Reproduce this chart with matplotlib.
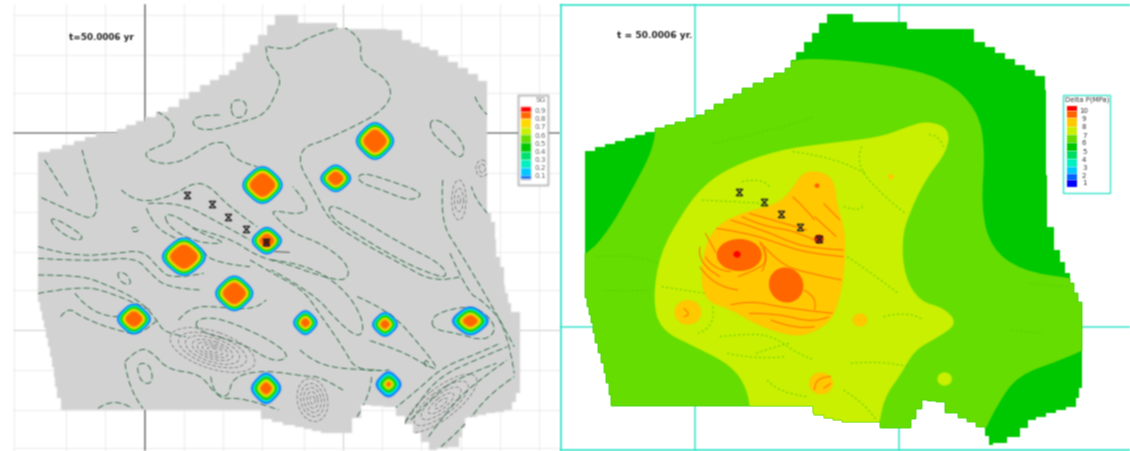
import numpy as np
import matplotlib
matplotlib.use("Agg")
import matplotlib.pyplot as plt
from matplotlib.path import Path
from matplotlib.patches import Patch, PathPatch, Ellipse, Rectangle
from matplotlib.lines import Line2D
from matplotlib.text import Text

STEP = 25

left_outline = [(107,457),(175,435),(270,400),(300,400),(406,350),(470,320),(560,255),(640,210),(700,135),(770,45),
                (835,45),(835,70),(940,70),(945,85),(1110,90),(1125,120),(1200,150),(1365,260),(1365,640),(1385,690),
                (1390,770),(1410,830),(1415,880),(1430,935),(1455,940),(1455,1180),(1435,1230),(1310,1255),(1285,1340),
                (1225,1350),(1180,1300),(1110,1220),(1040,1215),(1010,1255),(985,1300),(925,1300),(825,1275),(730,1250),
                (730,1230),(180,1230),(160,1160),(140,1040),(130,985),(107,880)]
right_outline = [(70,452),(260,385),(375,345),(500,265),(620,205),(650,155),(735,42),(805,42),(805,65),(950,65),(955,88),
                 (1115,88),(1140,125),(1335,245),(1340,680),(1360,680),(1360,750),(1390,820),(1415,880),(1435,930),
                 (1435,1165),(1420,1220),(1310,1260),(1265,1310),(1230,1330),(1190,1335),(1170,1280),(1095,1240),
                 (1060,1205),(1010,1200),(965,1285),(900,1285),(880,1265),(800,1265),(700,1240),(695,1218),(145,1218),
                 (135,1150),(105,1030),(90,970),(70,870)]

# SG plumes: centre x, centre y, half width, half height, share taken by the orange core
plume_x = [1050,940,735,747,515,656,375,855,1078,1317,745,1088]
plume_y = [423,535,555,722,770,880,957,968,973,963,1165,1153]
plume_rx = [52,42,55,41,60,52,46,33,35,50,41,35]
plume_ry = [55,40,55,40,56,52,45,36,36,42,46,38]
plume_core = [.62,.52,.64,.52,.64,.62,.52,.38,.38,.42,.40,.20]
plume_colors = ['#0064ff','#00c8ff','#00f0c0','#00c800','#66dd00','#c8f000','#ffd800','#ff6600']

left_wells_x = [523,594,638,690,744]
left_wells_y = [585,613,652,687,726]
right_wells_x = [492,562,607,660,712]
right_wells_y = [577,605,643,680,717]

left_open = [
    [(750,140),(810,155),(860,110),(945,85)],
    [(960,80),(1015,110),(1005,190),(1080,230),(1100,290),(1060,340),(990,380),(900,425),(850,440),(835,490),(880,570),(920,660),(1000,720),(1120,790),(1220,850),(1290,830)],
    [(745,140),(745,185),(790,230),(770,290),(740,345),(680,365),(580,395),(535,375),(550,345),(620,345)],
    [(440,335),(485,360),(490,420),(440,440),(400,460),(430,490),(500,490),(560,450),(600,425),(640,430),(650,480),(720,500)],
    [(230,450),(245,520),(275,600),(265,660),(210,640),(110,590)],
    [(125,480),(190,590)],
    [(340,570),(380,610),(480,590),(545,545),(590,560),(640,620),(720,680)],
    [(415,610),(500,605),(600,660),(700,720)],
    [(410,625),(430,680),(500,720),(560,745),(600,790),(700,800)],
    [(540,685),(640,710),(720,770),(800,790),(900,830),(975,845),(975,790),(900,730),(820,700),(770,650),(760,630),(840,645),(870,620),(820,560)],
    [(107,740),(200,770),(330,760),(400,750),(440,800),(480,840),(570,820)],
    [(107,775),(250,785),(380,770),(420,820),(470,865),(560,870)],
    [(107,825),(220,825),(290,850),(390,900),(440,960),(460,1000),(520,1010)],
    [(107,880),(210,860),(300,870),(420,930)],
    [(210,880),(260,950),(330,950)],
    [(170,950),(190,920),(225,950),(320,990),(400,1005),(440,960)],
    [(500,960),(530,920),(610,920),(720,930),(745,900)],
    [(350,1085),(390,1040),(430,1060),(470,1110),(560,1120),(600,1180),(640,1195),(650,1130),(740,1110),(860,1130),(900,1130),(960,1170)],
    [(760,780),(850,790),(960,860),(1020,960),(1010,1020),(940,960),(880,880),(760,810)],
    [(700,780),(780,830),(850,870),(900,950),(960,1040),(1000,1120),(1090,1110)],
    [(1000,890),(1090,930),(1180,1040),(1230,1110),(1200,1100),(1120,1050),(1030,1020)],
    [(840,1050),(880,1090),(980,1110),(1060,1110)],
    [(1240,540),(1230,660),(1290,760),(1340,850),(1400,960),(1440,1040)],
    [(1260,760),(1310,880),(1350,900),(1420,980),(1440,1120)],
    [(1330,290),(1340,320),(1365,345)],
    [(1120,1290),(1170,1210),(1230,1130),(1330,1080),(1420,1040)],
    [(1100,1230),(1170,1170),(1240,1100),(1340,1060),(1400,1030)],
    [(1150,1260),(1220,1180),(1290,1130),(1390,1090)],
    [(1200,1310),(1260,1220),(1340,1140),(1420,1080)],
    [(1235,1340),(1300,1280),(1370,1180),(1440,1130)],
    [(275,1225),(320,1190),(370,1225)],
    [(350,1090),(360,1170),(400,1225)],
    [(590,1130),(600,1200),(680,1190),(780,1230)],
    [(1000,1250),(1040,1180),(1040,1130)],
    [(1365,640),(1330,600),(1320,560)],
]
left_closed = [
    [(645,300),(690,300),(690,350),(650,355)],
    [(1010,515),(1100,545),(1190,580),(1150,605),(1070,570),(1000,545)],
    [(920,610),(1000,650),(1120,730),(1235,790),(1255,835),(1200,820),(1100,770),(980,690),(925,650)],
    [(1205,355),(1250,370),(1305,440),(1290,480),(1250,440),(1205,395)],
    [(1205,965),(1230,935),(1330,915),(1395,980),(1360,1025),(1280,1000),(1220,990)],
    [(545,960),(600,950),(700,990),(785,1040),(810,1075),(760,1085),(680,1030),(555,995)],
    [(455,640),(500,650),(560,700),(640,730),(560,730),(480,690)],
    [(140,650),(190,675),(240,715),(205,722),(150,680)],
    [(325,815),(355,820),(370,855),(340,850)],
    [(370,680),(390,685),(385,695),(370,695)],
    [(380,1090),(420,1090),(430,1150),(395,1150)],
    [(1190,1080),(1200,1085),(1198,1100),(1188,1095)],
]
# groups of concentric rings: centre x, centre y, angle, widths, heights
ring_x = [595,875,1235,1285,1350]
ring_y = [1050,1200,1210,600,505]
ring_angle = [20,80,-40,90,0]
ring_widths = [[250,200,160,120,90,60,30],[130,100,75,50,25],[250,190,140,90,45],[120,70,25],[35,18]]
ring_heights = [[110,88,70,52,38,25,12],[85,65,48,30,14],[90,70,50,32,15],[40,25,8],[50,25]]

# pressure zones of the right map
zone_light = [(620,190),(680,172),(900,193),(1060,235),(1150,330),(1170,450),(1158,620),(1185,745),(1270,812),(1400,835),
              (1520,850),(1490,1025),(1380,1080),(1260,1125),(1205,1210),(1165,1300),(1100,1420),(-60,1420),(-60,820),
              (70,770),(135,690),(205,555),(255,450),(265,370),(240,150),(450,100)]
zone_yellow = [(1010,362),(1072,385),(1065,455),(1010,530),(960,640),(940,720),(948,830),(990,905),(1055,922),(1095,970),
               (1040,1012),(975,1050),(940,1120),(890,1195),(875,1300),(800,1330),(600,1330),(525,1250),(515,1165),
               (470,1095),(370,1040),(275,990),(255,895),(275,760),(330,650),(390,560),(470,500),(600,450),(730,430),
               (880,412),(955,380)]
zone_orange = [(705,510),(755,535),(762,620),(785,690),(785,800),(768,905),(745,965),(680,1008),(620,1005),(540,975),
               (470,928),(392,900),(388,780),(418,688),(490,640),(600,612),(640,565),(665,520)]
small_x = [352,825,718,1058,910]
small_y = [937,960,1150,1137,530]
small_r = [37,20,33,20,8]
small_colors = ['#ffc800','#ffc800','#ffc800','#c8f000','#ffc800']

right_orange_lines = [
    [(640,590),(680,630),(700,660)],
    [(725,610),(770,660)],
    [(700,650),(760,710)],
    [(500,650),(560,680),(640,690),(700,720)],
    [(520,640),(600,665),(680,690)],
    [(430,685),(520,700),(600,730),(680,760),(780,770)],
    [(470,660),(560,690),(640,730),(700,745),(780,750)],
    [(550,725),(600,790),(680,820),(775,840)],
    [(400,770),(420,810),(470,815)],
    [(385,800),(420,860),(490,870)],
    [(400,700),(430,760)],
    [(385,740),(375,790),(440,830)],
    [(550,730),(578,770),(555,815)],
    [(560,740),(575,780),(540,810),(490,830)],
    [(670,870),(710,890),(700,930)],
    [(470,915),(520,900),(620,925),(750,940)],
    [(520,940),(600,940),(700,970),(740,950)],
    [(580,960),(650,990),(700,980)],
    [(340,925),(365,945),(340,950)],
    [(700,1170),(700,1130),(745,1130)],
    [(725,1165),(745,1150)],
]
right_green_lines = [
    [(390,600),(480,605),(560,610)],
    [(500,545),(560,530),(580,565)],
    [(640,455),(760,470),(840,520)],
    [(830,440),(810,490),(890,590),(950,640)],
    [(780,620),(840,640),(830,610)],
    [(790,770),(860,820),(930,880)],
    [(280,860),(400,880)],
    [(440,1010),(520,1000),(590,1010),(650,1060),(700,1080)],
    [(460,1060),(540,1080),(620,1070)],
    [(540,1060),(590,1040),(630,1030)],
    [(570,1140),(600,1180),(680,1190)],
    [(800,1090),(880,1080),(960,1100)],
    [(780,1170),(840,1210),(870,1260)],
    [(420,920),(430,980),(380,1000)],
    [(1015,405),(1040,400),(1055,440)],
    [(890,950),(960,930),(1000,960)],
    [(100,770),(200,760),(270,790)],
    [(120,870),(240,870)],
    [(420,430),(560,400),(700,350)],
    [(1240,990),(1330,1000)],
    [(1290,850),(1400,860)],
]

sg_colors = ['#ff0000','#ff6600','#ffd800','#c8f000','#66dd00','#00c800','#00e070','#00f0c0','#00c8ff','#0064ff','#b0b0b0']
sg_edges = [320,335,358,383,405,430,455,480,503,527,536,540]
sg_labels = ['0.9','0.8','0.7','0.6','0.5','0.4','0.3','0.2','0.1']
sg_label_y = [333,358,382,407,432,456,481,505,529]
dp_colors = ['#ff0000','#ff6600','#ffc800','#c8f000','#66dd00','#00c800','#00dc64','#00f0c0','#00c8ff','#0064ff','#0000ff']
dp_edges = [318,333,355,380,405,428,452,478,500,523,540,560]
dp_labels = ['10','9','8','7','6','5','4','3','2','1']
dp_label_y = [332,357,382,407,430,455,480,505,528,548]

grid_x = [38,185,295,515,625,735,850,960,1070,1180,1290,1400,1510]
grid_y = [45,165,280,518,635,755,870,990,1110,1230,1345]


def stairs(points):
    # the model grid shows as steps on slanted edges
    out = []
    n = len(points)
    for i in range(n):
        x0, y0 = points[i]
        x1, y1 = points[(i + 1) % n]
        count = int(max(abs(x1 - x0), abs(y1 - y0)) / STEP)
        if x0 == x1 or y0 == y1 or count < 2:
            out.append((x0, y0))
            out.append((x1, y0))
            continue
        for k in range(count):
            out.append((x0 + (x1 - x0) * k / count, y0 + (y1 - y0) * k / count))
            out.append((x0 + (x1 - x0) * (k + 1) / count, y0 + (y1 - y0) * k / count))
    return Path(out + [out[0]], closed=True)


def smooth(points, closed=False):
    p = np.array(points, dtype=float)
    verts = []
    codes = []
    if closed:
        verts.append((p[-1] + p[0]) / 2)
        codes.append(Path.MOVETO)
        for i in range(len(p)):
            verts += [p[i], (p[i] + p[(i + 1) % len(p)]) / 2]
            codes += [Path.CURVE3, Path.CURVE3]
    else:
        verts.append(p[0])
        codes.append(Path.MOVETO)
        for i in range(1, len(p) - 1):
            end = p[i + 1] if i == len(p) - 2 else (p[i] + p[i + 1]) / 2
            verts += [p[i], end]
            codes += [Path.CURVE3, Path.CURVE3]
        if len(p) == 2:
            verts.append(p[1])
            codes.append(Path.LINETO)
    return Path(verts, codes)


def make_blur(weights):
    # the source picture is a soft scan, so every artist gets a small blur
    weights = np.array(weights, dtype=float) / sum(weights)
    pad = len(weights) // 2 + 1

    def blur(img, dpi):
        out = np.zeros((img.shape[0] + 2 * pad, img.shape[1] + 2 * pad, 4))
        out[pad:-pad, pad:-pad] = img
        out[..., :3] *= out[..., 3:]
        for axis in (0, 1):
            out = sum(w * np.roll(out, k - len(weights) // 2, axis=axis) for k, w in enumerate(weights))
        alpha = np.maximum(out[..., 3:], 1e-4)
        out[..., :3] = np.clip(out[..., :3] / alpha, 0, 1)
        return out, -pad, -pad
    return blur


def add_line(ax, path, clip, color, lw, dashes, z=3):
    line = PathPatch(path, fill=False, edgecolor=color, lw=lw, ls=dashes, zorder=z)
    ax.add_patch(line)
    line.set_clip_path(clip)


def add_contour(ax, path, clip):
    add_line(ax, path, clip, '#78d89a', 0.4, '-')
    add_line(ax, path, clip, '#555555', 0.6, (0, (7, 4)))


def add_wells(ax, xs, ys):
    hourglass = Path([(-1, 1), (1, 1), (-1, -1), (1, -1), (-1, 1)], closed=True)
    ax.plot(xs, ys, ls='none', marker=hourglass, ms=4.6, mfc='none', mec='#222222', mew=0.9, zorder=6)


def add_legend(ax, box, edge, colors, edges, labels, label_y, title, title_x, label_x, sw_x, size, text_color):
    ax.add_patch(Rectangle((box[0], box[1]), box[2], box[3], fc='white', ec=edge, lw=1, zorder=7))
    for c, top, bottom in zip(colors, edges[:-1], edges[1:]):
        ax.add_patch(Rectangle((sw_x, top), 28, bottom - top, fc=c, ec='none', zorder=8))
    ax.text(title_x, box[1] + 14, title, fontsize=size, color=text_color, ha='center', va='center', zorder=8)
    for lab, y in zip(labels, label_y):
        ax.text(label_x, y, lab, fontsize=size, color=text_color, ha='center', va='center', zorder=8)


fig = plt.figure(figsize=(11.30, 4.51), dpi=100)
ax1 = fig.add_axes([0, 0, 560 / 1130, 1])
ax2 = fig.add_axes([560 / 1130, 0, 570 / 1130, 1])
for ax in (ax1, ax2):
    ax.set_xlim(0, 1568)
    ax.set_ylim(1353, 0)
    ax.axis('off')

# left map: gas saturation
for gx in grid_x:
    ax1.plot([gx, gx], [15, 1350], color='#d4d4d4' if gx == 960 else '#eeeeee', lw=0.8, zorder=1)
for gy in grid_y:
    ax1.plot([38, 1568], [gy, gy], color='#d4d4d4' if gy == 990 else '#eeeeee', lw=0.8, zorder=1)
ax1.plot([406, 406], [15, 1350], color='#707070', lw=1.1, zorder=1)
ax1.plot([38, 1568], [398, 398], color='#808080', lw=1.1, zorder=1)

map1 = PathPatch(stairs(left_outline), fc='#d2d2d2', ec='none', zorder=2)
ax1.add_patch(map1)
for pts in left_open:
    add_contour(ax1, smooth(pts), map1)
for pts in left_closed:
    add_contour(ax1, smooth(pts, closed=True), map1)
for x, y, angle, widths, heights in zip(ring_x, ring_y, ring_angle, ring_widths, ring_heights):
    for w, h in zip(widths, heights):
        ring = Ellipse((x, y), w, h, angle=angle, fill=False, ec='#606060', lw=0.45, ls=(0, (6, 3)), zorder=3)
        ax1.add_patch(ring)
        ring.set_clip_path(map1)

for x, y, rx, ry, core in zip(plume_x, plume_y, plume_rx, plume_ry, plume_core):
    scales = np.linspace(1, core + 0.06, len(plume_colors) - 1).tolist() + [core]
    for color, s in zip(plume_colors, scales):
        # rounded diamond: four corners and four slightly bulged sides
        shape = [(x + rx * 1.14 * s, y), (x + rx * .66 * s, y + ry * .66 * s),
                 (x, y + ry * 1.14 * s), (x - rx * .66 * s, y + ry * .66 * s),
                 (x - rx * 1.14 * s, y), (x - rx * .66 * s, y - ry * .66 * s),
                 (x, y - ry * 1.14 * s), (x + rx * .66 * s, y - ry * .66 * s)]
        ax1.add_patch(PathPatch(smooth(shape, closed=True), fc=color, ec='none', zorder=4))
add_wells(ax1, left_wells_x, left_wells_y)
ax1.plot([744], [726], ls='none', marker='o', ms=4, color='#8a1a00', zorder=5)
ax1.plot([770, 810], [755, 757], color='#555555', lw=0.7, zorder=5)
ax1.text(193, 112, 't=50.0006 yr', fontsize=6.4, fontweight='bold', color='#222222', va='center', zorder=8)
add_legend(ax1, (1450, 285, 85, 270), '#a0a0a0', sg_colors, sg_edges, sg_labels, sg_label_y,
           'SG', 1513, 1514, 1460, 5.2, '#666666')

# right map: pressure change
frame = '#38e6cc'
ax2.plot([3, 1568], [14, 14], color=frame, lw=1.3, zorder=1)
ax2.plot([3, 1568], [1351, 1351], color=frame, lw=1.3, zorder=1)
ax2.plot([3, 3], [14, 1351], color=frame, lw=1.3, zorder=1)
ax2.plot([372, 372], [14, 1351], color=frame, lw=1.1, zorder=1)
ax2.plot([932, 932], [14, 1351], color=frame, lw=1.1, zorder=1)
ax2.plot([3, 1568], [980, 980], color=frame, lw=1.1, zorder=1)

map2 = PathPatch(stairs(right_outline), fc='#00c800', ec='none', zorder=2)
ax2.add_patch(map2)
for pts, c in [(zone_light, '#66dd00'), (zone_yellow, '#c8f000'), (zone_orange, '#ffc800')]:
    zone = PathPatch(smooth(pts, closed=True), fc=c, ec='none', zorder=2.2)
    ax2.add_patch(zone)
    zone.set_clip_path(map2)
for x, y, r, c in zip(small_x, small_y, small_r, small_colors):
    ax2.add_patch(Ellipse((x, y), 2 * r, 2 * r, fc=c, ec='none', zorder=2.3))
ax2.add_patch(Ellipse((493, 765), 124, 96, fc='#ff6600', ec='none', zorder=2.4))
ax2.add_patch(Ellipse((622, 855), 94, 106, angle=-15, fc='#ff6600', ec='none', zorder=2.4))
ax2.add_patch(Ellipse((487, 763), 20, 20, fc='#ff0000', ec='none', zorder=2.5))
ax2.add_patch(Ellipse((707, 557), 14, 14, fc='#ff6600', ec='none', zorder=2.5))
ax2.add_patch(Ellipse((712, 717), 26, 26, fc='#c81e00', ec='none', zorder=2.5))
for pts in right_orange_lines:
    add_line(ax2, smooth(pts), map2, '#ff6a00', 0.7, '-')
for pts in right_green_lines:
    add_line(ax2, smooth(pts), map2, '#55c800', 0.6, (0, (2.5, 3)))
add_wells(ax2, right_wells_x, right_wells_y)
ax2.text(158, 108, 't = 50.0006 yr.', fontsize=6.6, fontweight='bold', color='#222222', va='center', zorder=8)
add_legend(ax2, (1385, 285, 128, 295), frame, dp_colors, dp_edges, dp_labels, dp_label_y,
           'Delta P(MPa)', 1450, 1442, 1395, 5, '#333333')

# heavy blur only for filled shapes of the left map, it would wash out thin lines and text
soft = make_blur([1, 4, 6, 4, 1])
light = make_blur([1, 2, 1])
for ax in (ax1, ax2):
    for art in ax.get_children():
        if art is ax.patch:
            continue
        if isinstance(art, Patch) and art.get_fill() and ax is ax1:
            art.set_agg_filter(soft)
        elif isinstance(art, (Patch, Line2D, Text)):
            art.set_agg_filter(light)

fig.savefig('out.png', dpi=100)
